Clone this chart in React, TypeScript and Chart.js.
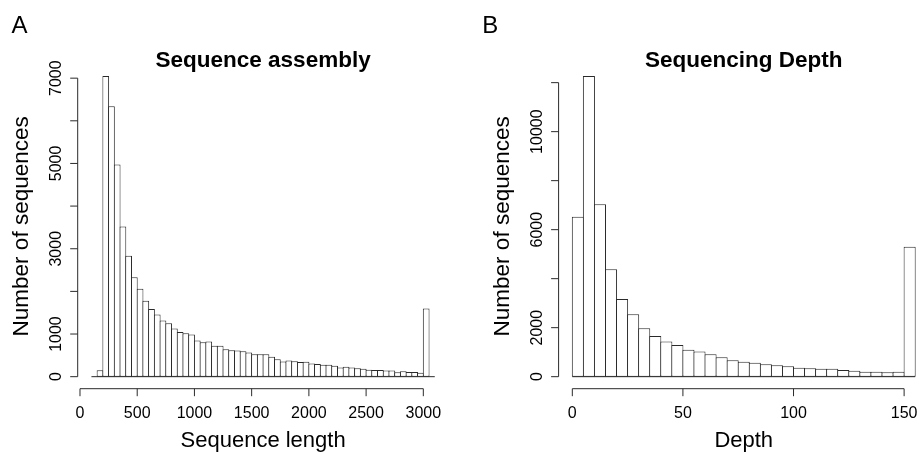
import React, { useEffect, useRef } from 'react';
import { Chart, registerables } from 'chart.js';

Chart.register(...registerables);

// ---------- Panel A: Sequence assembly (bins of 50, from 100 to 3100) ----------
const binStartA = 100;
const binWidthA = 50;
const countsA = [
  0, 150, 7050, 6340, 4975, 3520, 2835, 2330, 2060, 1783,
  1585, 1460, 1320, 1252, 1130, 1045, 1017, 990, 850, 810,
  822, 728, 728, 642, 618, 612, 598, 568, 528, 528,
  528, 470, 408, 356, 380, 364, 343, 348, 310, 300,
  280, 278, 255, 215, 235, 215, 200, 185, 162, 155,
  155, 145, 145, 105, 130, 112, 110, 92, 1600, 0,
];
const xTicksA = [0, 500, 1000, 1500, 2000, 2500, 3000];
const xTickLabelsA = ['0', '500', '1000', '1500', '2000', '2500', '3000'];
const yTicksA = [0, 1000, 2000, 3000, 4000, 5000, 6000, 7000];
const yTickLabelsA = ['0', '1000', '', '3000', '', '5000', '', '7000'];

// ---------- Panel B: Sequencing depth (bins of 5, from 0 to 155) ----------
const binStartB = 0;
const binWidthB = 5;
const countsB = [
  6530, 12270, 7040, 4380, 3170, 2550, 1975, 1660, 1440, 1294,
  1100, 1030, 915, 790, 670, 614, 573, 505, 464, 423,
  369, 341, 328, 328, 274, 246, 205, 205, 178, 200, 5300,
];
const xTicksB = [0, 50, 100, 150];
const xTickLabelsB = ['0', '50', '100', '150'];
const yTicksB = [0, 2000, 4000, 6000, 8000, 10000, 12000];
const yTickLabelsB = ['0', '2000', '', '6000', '', '10000', ''];

const FONT = '"Liberation Sans", Arial, Helvetica, sans-serif';
const LINE = '#2a2a2a';
const H = 452;

const rAxesPlugin = {
  id: 'rAxes',
  afterDraw(chart: any, _args: any, o: any) {
    const { ctx, chartArea: ca } = chart;
    const xs = chart.scales.x;
    const ys = chart.scales.y;
    const TICK = 7.5;
    ctx.save();
    ctx.strokeStyle = LINE;
    ctx.lineWidth = 1;
    ctx.fillStyle = '#000';
    ctx.beginPath();
    // y axis (R style: only spans first..last tick)
    const y0 = ys.getPixelForValue(o.yTicks[0]);
    const yN = ys.getPixelForValue(o.yTicks[o.yTicks.length - 1]);
    ctx.moveTo(ca.left, y0);
    ctx.lineTo(ca.left, yN);
    o.yTicks.forEach((v: number) => {
      const p = ys.getPixelForValue(v);
      ctx.moveTo(ca.left, p);
      ctx.lineTo(ca.left - TICK, p);
    });
    // x axis at bottom of plot region
    const x0 = xs.getPixelForValue(o.xTicks[0]);
    const xN = xs.getPixelForValue(o.xTicks[o.xTicks.length - 1]);
    ctx.moveTo(x0, ca.bottom);
    ctx.lineTo(xN, ca.bottom);
    o.xTicks.forEach((v: number) => {
      const p = xs.getPixelForValue(v);
      ctx.moveTo(p, ca.bottom);
      ctx.lineTo(p, ca.bottom + TICK);
    });
    ctx.stroke();

    // tick labels
    ctx.font = `16px ${FONT}`;
    ctx.textAlign = 'center';
    ctx.textBaseline = 'alphabetic';
    o.xTicks.forEach((v: number, i: number) => {
      ctx.fillText(o.xLabels[i], xs.getPixelForValue(v), ca.bottom + 29);
    });
    o.yTicks.forEach((v: number, i: number) => {
      if (!o.yLabels[i]) return;
      ctx.save();
      ctx.translate(ca.left - 17, ys.getPixelForValue(v));
      ctx.rotate(-Math.PI / 2);
      ctx.fillText(o.yLabels[i], 0, 0);
      ctx.restore();
    });

    const cx = (ca.left + ca.right) / 2;
    const cy = (ca.top + ca.bottom) / 2;
    // main title
    ctx.font = `bold 22.5px ${FONT}`;
    ctx.fillText(o.title, cx, ca.top + 3);
    // x label
    ctx.font = `22px ${FONT}`;
    ctx.fillText(o.xTitle, cx, ca.bottom + 58.7);
    // y label
    ctx.save();
    ctx.translate(ca.left - 50, cy);
    ctx.rotate(-Math.PI / 2);
    ctx.font = `22.5px ${FONT}`;
    ctx.fillText(o.yTitle, 0, 0);
    ctx.restore();
    // panel letter
    ctx.font = `24px ${FONT}`;
    ctx.textAlign = 'left';
    ctx.fillText(o.panel, o.panelX, 33.3);
    ctx.restore();
  },
};

type Cfg = {
  left: number;
  width: number;
  padding: { left: number; right: number; top: number; bottom: number };
  binStart: number;
  binWidth: number;
  counts: number[];
  xTicks: number[];
  xLabels: string[];
  yTicks: number[];
  yLabels: string[];
  title: string;
  xTitle: string;
  yTitle: string;
  panel: string;
  panelX: number;
};

function Histogram({ cfg }: { cfg: Cfg }) {
  const ref = useRef<HTMLCanvasElement | null>(null);
  useEffect(() => {
    if (!ref.current) return;
    const n = cfg.counts.length;
    const lastBreak = cfg.binStart + cfg.binWidth * n;
    const range = lastBreak - cfg.binStart;
    const xMin = cfg.binStart - 0.04 * range;
    const xMax = lastBreak + 0.04 * range;
    const maxC = Math.max(...cfg.counts);
    const plotW = cfg.width - cfg.padding.left - cfg.padding.right;
    const binPx = (cfg.binWidth * plotW) / (xMax - xMin);
    const barPct = 1 + 1 / binPx; // so that adjacent borders overlap (R-style rect)

    const data = cfg.counts.map((c, i) => ({
      x: cfg.binStart + cfg.binWidth * (i + 0.5),
      y: c,
    }));

    const chart = new Chart(ref.current, {
      type: 'bar',
      data: {
        datasets: [
          {
            type: 'bar',
            data: data as any,
            backgroundColor: '#ffffff',
            borderColor: LINE,
            borderWidth: 1,
            borderSkipped: false,
            barPercentage: barPct,
            categoryPercentage: 1,
            inflateAmount: 0,
            order: 1,
          } as any,
          {
            type: 'line',
            data: [
              { x: cfg.binStart, y: 0 },
              { x: lastBreak, y: 0 },
            ] as any,
            borderColor: LINE,
            borderWidth: 1,
            pointRadius: 0,
            fill: false,
            order: 0,
          } as any,
        ],
      },
      options: {
        responsive: false,
        animation: false,
        events: [],
        layout: { padding: cfg.padding },
        plugins: {
          legend: { display: false },
          tooltip: { enabled: false },
          title: { display: false },
          rAxes: {
            xTicks: cfg.xTicks,
            xLabels: cfg.xLabels,
            yTicks: cfg.yTicks,
            yLabels: cfg.yLabels,
            title: cfg.title,
            xTitle: cfg.xTitle,
            yTitle: cfg.yTitle,
            panel: cfg.panel,
            panelX: cfg.panelX,
          },
        } as any,
        scales: {
          x: { type: 'linear', display: false, min: xMin, max: xMax, offset: false },
          y: { type: 'linear', display: false, min: -0.04 * maxC, max: 1.04 * maxC },
        },
      },
      plugins: [rAxesPlugin as any],
    });
    return () => chart.destroy();
  }, [cfg]);
  return (
    <canvas
      ref={ref}
      width={cfg.width}
      height={H}
      style={{ position: 'absolute', left: cfg.left, top: 0, width: cfg.width, height: H }}
    />
  );
}

const cfgA: Cfg = {
  left: 0,
  width: 460,
  padding: { left: 77.7, right: 11.5, top: 64, bottom: 63.3 },
  binStart: binStartA,
  binWidth: binWidthA,
  counts: countsA,
  xTicks: xTicksA,
  xLabels: xTickLabelsA,
  yTicks: yTicksA,
  yLabels: yTickLabelsA,
  title: 'Sequence assembly',
  xTitle: 'Sequence length',
  yTitle: 'Number of sequences',
  panel: 'A',
  panelX: 11.5,
};

const cfgB: Cfg = {
  left: 459,
  width: 480,
  padding: { left: 99.6, right: 10.1, top: 64, bottom: 63.3 },
  binStart: binStartB,
  binWidth: binWidthB,
  counts: countsB,
  xTicks: xTicksB,
  xLabels: xTickLabelsB,
  yTicks: yTicksB,
  yLabels: yTickLabelsB,
  title: 'Sequencing Depth',
  xTitle: 'Depth',
  yTitle: 'Number of sequences',
  panel: 'B',
  panelX: 23.3,
};

export default function App() {
  return (
    <div
      style={{
        position: 'fixed',
        left: 0,
        top: 0,
        width: 919,
        height: H,
        overflow: 'hidden',
        background: '#ffffff',
      }}
    >
      <Histogram cfg={cfgA} />
      <Histogram cfg={cfgB} />
    </div>
  );
}
